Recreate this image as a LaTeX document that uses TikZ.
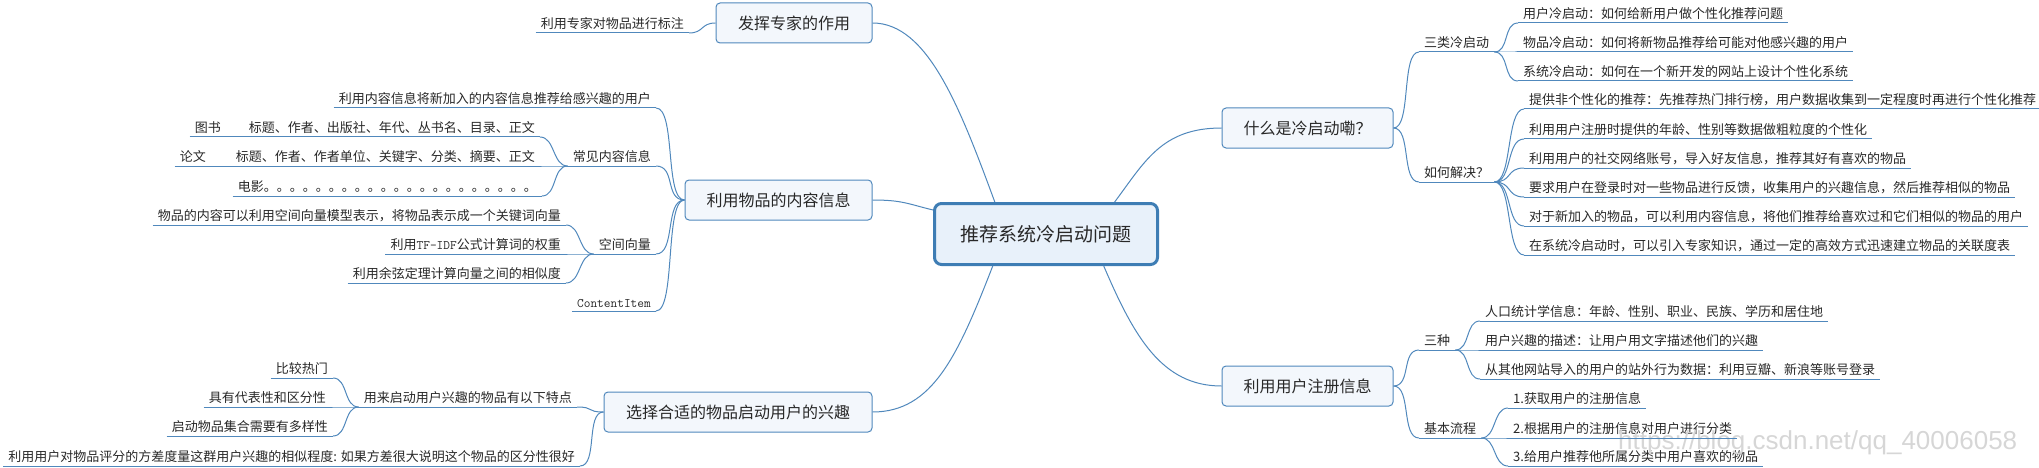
\documentclass[tikz,border=0pt]{standalone}
\usepackage{fontspec}
\setmainfont{Noto Sans CJK SC}
\newfontfamily\markfont{Liberation Sans}
\definecolor{linkblue}{RGB}{80,136,188}
\definecolor{boxfill}{RGB}{243,247,252}
\definecolor{rootfill}{RGB}{232,241,250}
\definecolor{rootline}{RGB}{62,125,180}
\definecolor{inkgray}{RGB}{40,40,40}

\begin{document}
\begin{tikzpicture}[
    x=1pt, y=-1pt,
    every node/.style={text=inkgray},
    link/.style={draw=linkblue, line width=1pt},
    root/.style={draw=rootline, line width=3pt, fill=rootfill, rounded corners=7pt, minimum width=223pt, minimum height=61pt, font=\fontsize{19}{22}\selectfont},
    topic/.style={draw=linkblue, line width=1pt, fill=boxfill, rounded corners=4pt, minimum height=40pt, font=\fontsize{16}{19}\selectfont},
    leaf/.style={inner xsep=5pt, inner ysep=3pt, font=\fontsize{13}{15}\selectfont},
    lleaf/.style={leaf, anchor=south east},
    rleaf/.style={leaf, anchor=south west}
]
\useasboundingbox (0,0) rectangle (2039,468);

% Centre
\node[root] (root) at (1046,234) {推荐系统冷启动问题};

% Thèmes principaux
\node[topic, minimum width=156pt] (expert) at (794,23) {发挥专家的作用};
\node[topic, minimum width=187pt] (content) at (778.5,200) {利用物品的内容信息};
\node[topic, minimum width=268pt] (choose) at (738,412) {选择合适的物品启动用户的兴趣};
\node[topic, minimum width=171pt] (what) at (1307.5,128) {什么是冷启动嘞？};
\node[topic, minimum width=171pt] (reg) at (1307.5,386) {利用用户注册信息};

% Côté gauche
\node[lleaf] (e1) at (689,33) {利用专家对物品进行标注};

\node[lleaf] (c1) at (656,108) {利用内容信息将新加入的内容信息推荐给感兴趣的用户};
\node[lleaf] (c2) at (656,166) {常见内容信息};
\node[lleaf] (c21) at (540,137) {图书\hspace{28pt}标题、作者、出版社、年代、丛书名、目录、正文};
\node[lleaf] (c22) at (540,166) {论文\hspace{30pt}标题、作者、作者单位、关键字、分类、摘要、正文};
\node[lleaf] (c23) at (542,196) {电影。。。。。。。。。。。。。。。。。。。。。};
\node[lleaf] (c3) at (656,254) {空间向量};
\node[lleaf] (c31) at (566,225) {物品的内容可以利用空间向量模型表示，将物品表示成一个关键词向量};
\node[lleaf] (c32) at (566,254) {利用{\ttfamily TF-IDF}公式计算词的权重};
\node[lleaf] (c33) at (566,283) {利用余弦定理计算向量之间的相似度};
\node[lleaf] (c4) at (656,311) {\ttfamily ContentItem};

\node[lleaf] (s1) at (577,407) {用来启动用户兴趣的物品有以下特点};
\node[lleaf] (s11) at (333,378) {比较热门};
\node[lleaf] (s12) at (331,407) {具有代表性和区分性};
\node[lleaf] (s13) at (333,436) {启动物品集合需要有多样性};
\node[lleaf] (s2) at (580,466) {利用用户对物品评分的方差度量这群用户兴趣的相似程度: 如果方差很大说明这个物品的区分性很好};

% Côté droit
\node[rleaf] (w1) at (1419,52) {三类冷启动};
\node[rleaf] (w11) at (1518,23) {用户冷启动：如何给新用户做个性化推荐问题};
\node[rleaf] (w12) at (1518,52) {物品冷启动：如何将新物品推荐给可能对他感兴趣的用户};
\node[rleaf] (w13) at (1518,81) {系统冷启动：如何在一个新开发的网站上设计个性化系统};
\node[rleaf] (w2) at (1419,182) {如何解决？};
\node[rleaf] (w21) at (1524,109) {提供非个性化的推荐：先推荐热门排行榜，用户数据收集到一定程度时再进行个性化推荐};
\node[rleaf] (w22) at (1524,139) {利用用户注册时提供的年龄、性别等数据做粗粒度的个性化};
\node[rleaf] (w23) at (1524,168) {利用用户的社交网络账号，导入好友信息，推荐其好有喜欢的物品};
\node[rleaf] (w24) at (1524,197) {要求用户在登录时对一些物品进行反馈，收集用户的兴趣信息，然后推荐相似的物品};
\node[rleaf] (w25) at (1524,226) {对于新加入的物品，可以利用内容信息，将他们推荐给喜欢过和它们相似的物品的用户};
\node[rleaf] (w26) at (1524,255) {在系统冷启动时，可以引入专家知识，通过一定的高效方式迅速建立物品的关联度表};

\node[rleaf] (r1) at (1419,350) {三种};
\node[rleaf] (r11) at (1480,321) {人口统计学信息：年龄、性别、职业、民族、学历和居住地};
\node[rleaf] (r12) at (1480,350) {用户兴趣的描述：让用户用文字描述他们的兴趣};
\node[rleaf] (r13) at (1480,379) {从其他网站导入的用户的站外行为数据：利用豆瓣、新浪等账号登录};
\node[rleaf] (r2) at (1419,438) {基本流程};
\node[rleaf] (r21) at (1508,408) {1.获取用户的注册信息};
\node[rleaf] (r22) at (1508,438) {2.根据用户的注册信息对用户进行分类};
\node[rleaf] (r23) at (1508,466) {3.给用户推荐他所属分类中用户喜欢的物品};

% Filigrane
\node[font=\markfont\fontsize{26}{30}\selectfont, text=black!16, anchor=west, inner sep=0pt] (mark) at (1618,443) {https://blog.csdn.net/qq\_40006058};

% Liens centre -> thèmes
\draw[link] (expert.east) .. controls +(55,0) and +(-35,-95) .. (root.148);
\draw[link] (content.east) .. controls +(30,0) and +(-25,-6) .. (root.168);
\draw[link] (choose.east) .. controls +(60,0) and +(-35,90) .. (root.211);
\draw[link] (what.west) .. controls +(-60,0) and +(30,-40) .. (root.25);
\draw[link] (reg.west) .. controls +(-60,0) and +(30,70) .. (root.331);

% Soulignements
\foreach \n in {e1,c1,c2,c21,c22,c23,c3,c31,c32,c33,c4,s1,s11,s12,s13,s2,
                w1,w11,w12,w13,w2,w21,w22,w23,w24,w25,w26,r1,r11,r12,r13,r2,r21,r22,r23}
    \draw[link] (\n.south west) -- (\n.south east);

% Branches gauches
\draw[link] (expert.west) .. controls +(-15,0) and +(15,0) .. (e1.south east);
\foreach \c in {c1,c2,c3,c4}
    \draw[link] (content.west) .. controls +(-20,0) and +(20,0) .. (\c.south east);
\foreach \c in {s1,s2}
    \draw[link] (choose.west) .. controls +(-18,0) and +(18,0) .. (\c.south east);
\foreach \c in {c21,c22,c23}
    \draw[link] (c2.south west) .. controls +(-15,0) and +(15,0) .. (\c.south east);
\foreach \c in {c31,c32,c33}
    \draw[link] (c3.south west) .. controls +(-15,0) and +(15,0) .. (\c.south east);
\foreach \c in {s11,s12,s13}
    \draw[link] (s1.south west) .. controls +(-15,0) and +(15,0) .. (\c.south east);

% Branches droites
\foreach \c in {w1,w2}
    \draw[link] (what.east) .. controls +(18,0) and +(-18,0) .. (\c.south west);
\foreach \c in {r1,r2}
    \draw[link] (reg.east) .. controls +(18,0) and +(-18,0) .. (\c.south west);
\foreach \c in {w11,w12,w13}
    \draw[link] (w1.south east) .. controls +(15,0) and +(-15,0) .. (\c.south west);
\foreach \c in {w21,w22,w23,w24,w25,w26}
    \draw[link] (w2.south east) .. controls +(18,0) and +(-18,0) .. (\c.south west);
\foreach \c in {r11,r12,r13}
    \draw[link] (r1.south east) .. controls +(15,0) and +(-15,0) .. (\c.south west);
\foreach \c in {r21,r22,r23}
    \draw[link] (r2.south east) .. controls +(15,0) and +(-15,0) .. (\c.south west);

\end{tikzpicture}
\end{document}
